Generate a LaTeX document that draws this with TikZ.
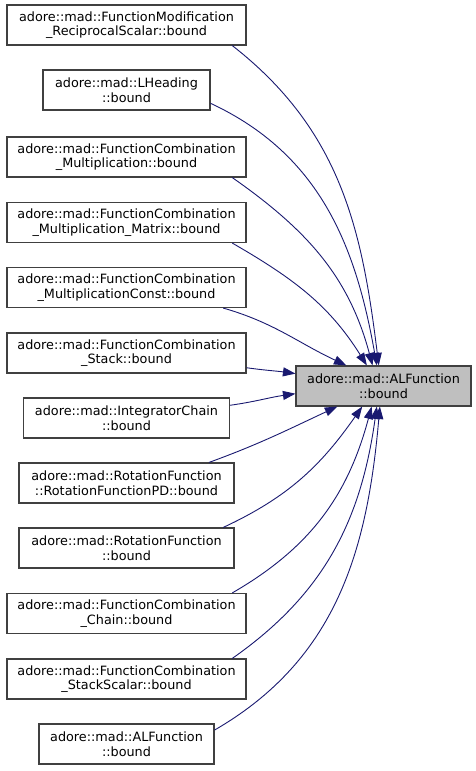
\documentclass[tikz,border=0pt]{standalone}
\usepackage{fontspec}
\setmainfont{DejaVu Sans}
\usepackage{xcolor}
\usepackage{tikz}
\usetikzlibrary{arrows.meta}
\definecolor{edgeblue}{RGB}{25, 25, 112}
\definecolor{focusgray}{RGB}{191, 191, 191}
\definecolor{boxline}{RGB}{64, 64, 64}

\begin{document}
\begin{tikzpicture}[x=1pt, y=1pt,
    fnbox/.style={draw=boxline, fill=white, line width=1.1pt, minimum height=40pt,
        inner sep=0pt, align=center, font=\fontsize{12.8}{14.5}\selectfont},
    calledge/.style={draw=edgeblue, line width=0.9pt, -{Triangle[length=12.5pt, width=9pt]}}]
    \useasboundingbox (0,0) rectangle (476,771);

    % Callers (left column)
    \node[fnbox, minimum width=239pt] (recip) at (126.5, 746) {adore::mad::FunctionModification\\\_ReciprocalScalar::bound};
    \node[fnbox, minimum width=167pt] (lheading) at (126.5, 681) {adore::mad::LHeading\\::bound};
    \node[fnbox, minimum width=239pt] (mult) at (126.5, 614) {adore::mad::FunctionCombination\\\_Multiplication::bound};
    \node[fnbox, minimum width=239pt] (multmatrix) at (126.5, 548.5) {adore::mad::FunctionCombination\\\_Multiplication\_Matrix::bound};
    \node[fnbox, minimum width=239pt] (multconst) at (126.5, 483.5) {adore::mad::FunctionCombination\\\_MultiplicationConst::bound};
    \node[fnbox, minimum width=239pt] (stack) at (126.5, 418) {adore::mad::FunctionCombination\\\_Stack::bound};
    \node[fnbox, minimum width=206pt] (integrator) at (126.5, 353) {adore::mad::IntegratorChain\\::bound};
    \node[fnbox, minimum width=215pt] (rotpd) at (126.5, 288) {adore::mad::RotationFunction\\::RotationFunctionPD::bound};
    \node[fnbox, minimum width=215pt] (rotfn) at (126.5, 223) {adore::mad::RotationFunction\\::bound};
    \node[fnbox, minimum width=239pt] (chain) at (126.5, 157.5) {adore::mad::FunctionCombination\\\_Chain::bound};
    \node[fnbox, minimum width=239pt] (stackscalar) at (126.5, 92) {adore::mad::FunctionCombination\\\_StackScalar::bound};
    \node[fnbox, minimum width=175pt] (alfself) at (126.5, 27) {adore::mad::ALFunction\\::bound};

    % Called function
    \node[fnbox, fill=focusgray, minimum width=175pt] (alf) at (383.5, 385) {adore::mad::ALFunction\\::bound};

    % Calls from above
    \draw[calledge] (recip.-11) to[out=-38, in=97] (alf.103);
    \draw[calledge] (lheading.-9) to[out=-25, in=100] (alf.108);
    \draw[calledge] (mult.-11) to[out=-35, in=105] (alf.118);
    \draw[calledge] (multmatrix.-11.5) to[out=-30, in=122] (alf.129.5);
    \draw[calledge] (multconst.-12.7) to[out=-16, in=155] (alf.151.3);
    \draw[calledge] (stack.-7) to[out=-8, in=172] (alf.172.8);

    % Calls from below
    \draw[calledge] (integrator.7.7) to[out=8, in=188] (alf.185.9);
    \draw[calledge] (rotpd.14) to[out=20, in=205] (alf.204.7);
    \draw[calledge] (rotfn.12) to[out=25, in=235] (alf.224.3);
    \draw[calledge] (chain.11) to[out=30, in=255] (alf.240);
    \draw[calledge] (stackscalar.11.3) to[out=35, in=262] (alf.252);
    \draw[calledge] (alfself.9) to[out=30, in=265] (alf.260);
\end{tikzpicture}
\end{document}
